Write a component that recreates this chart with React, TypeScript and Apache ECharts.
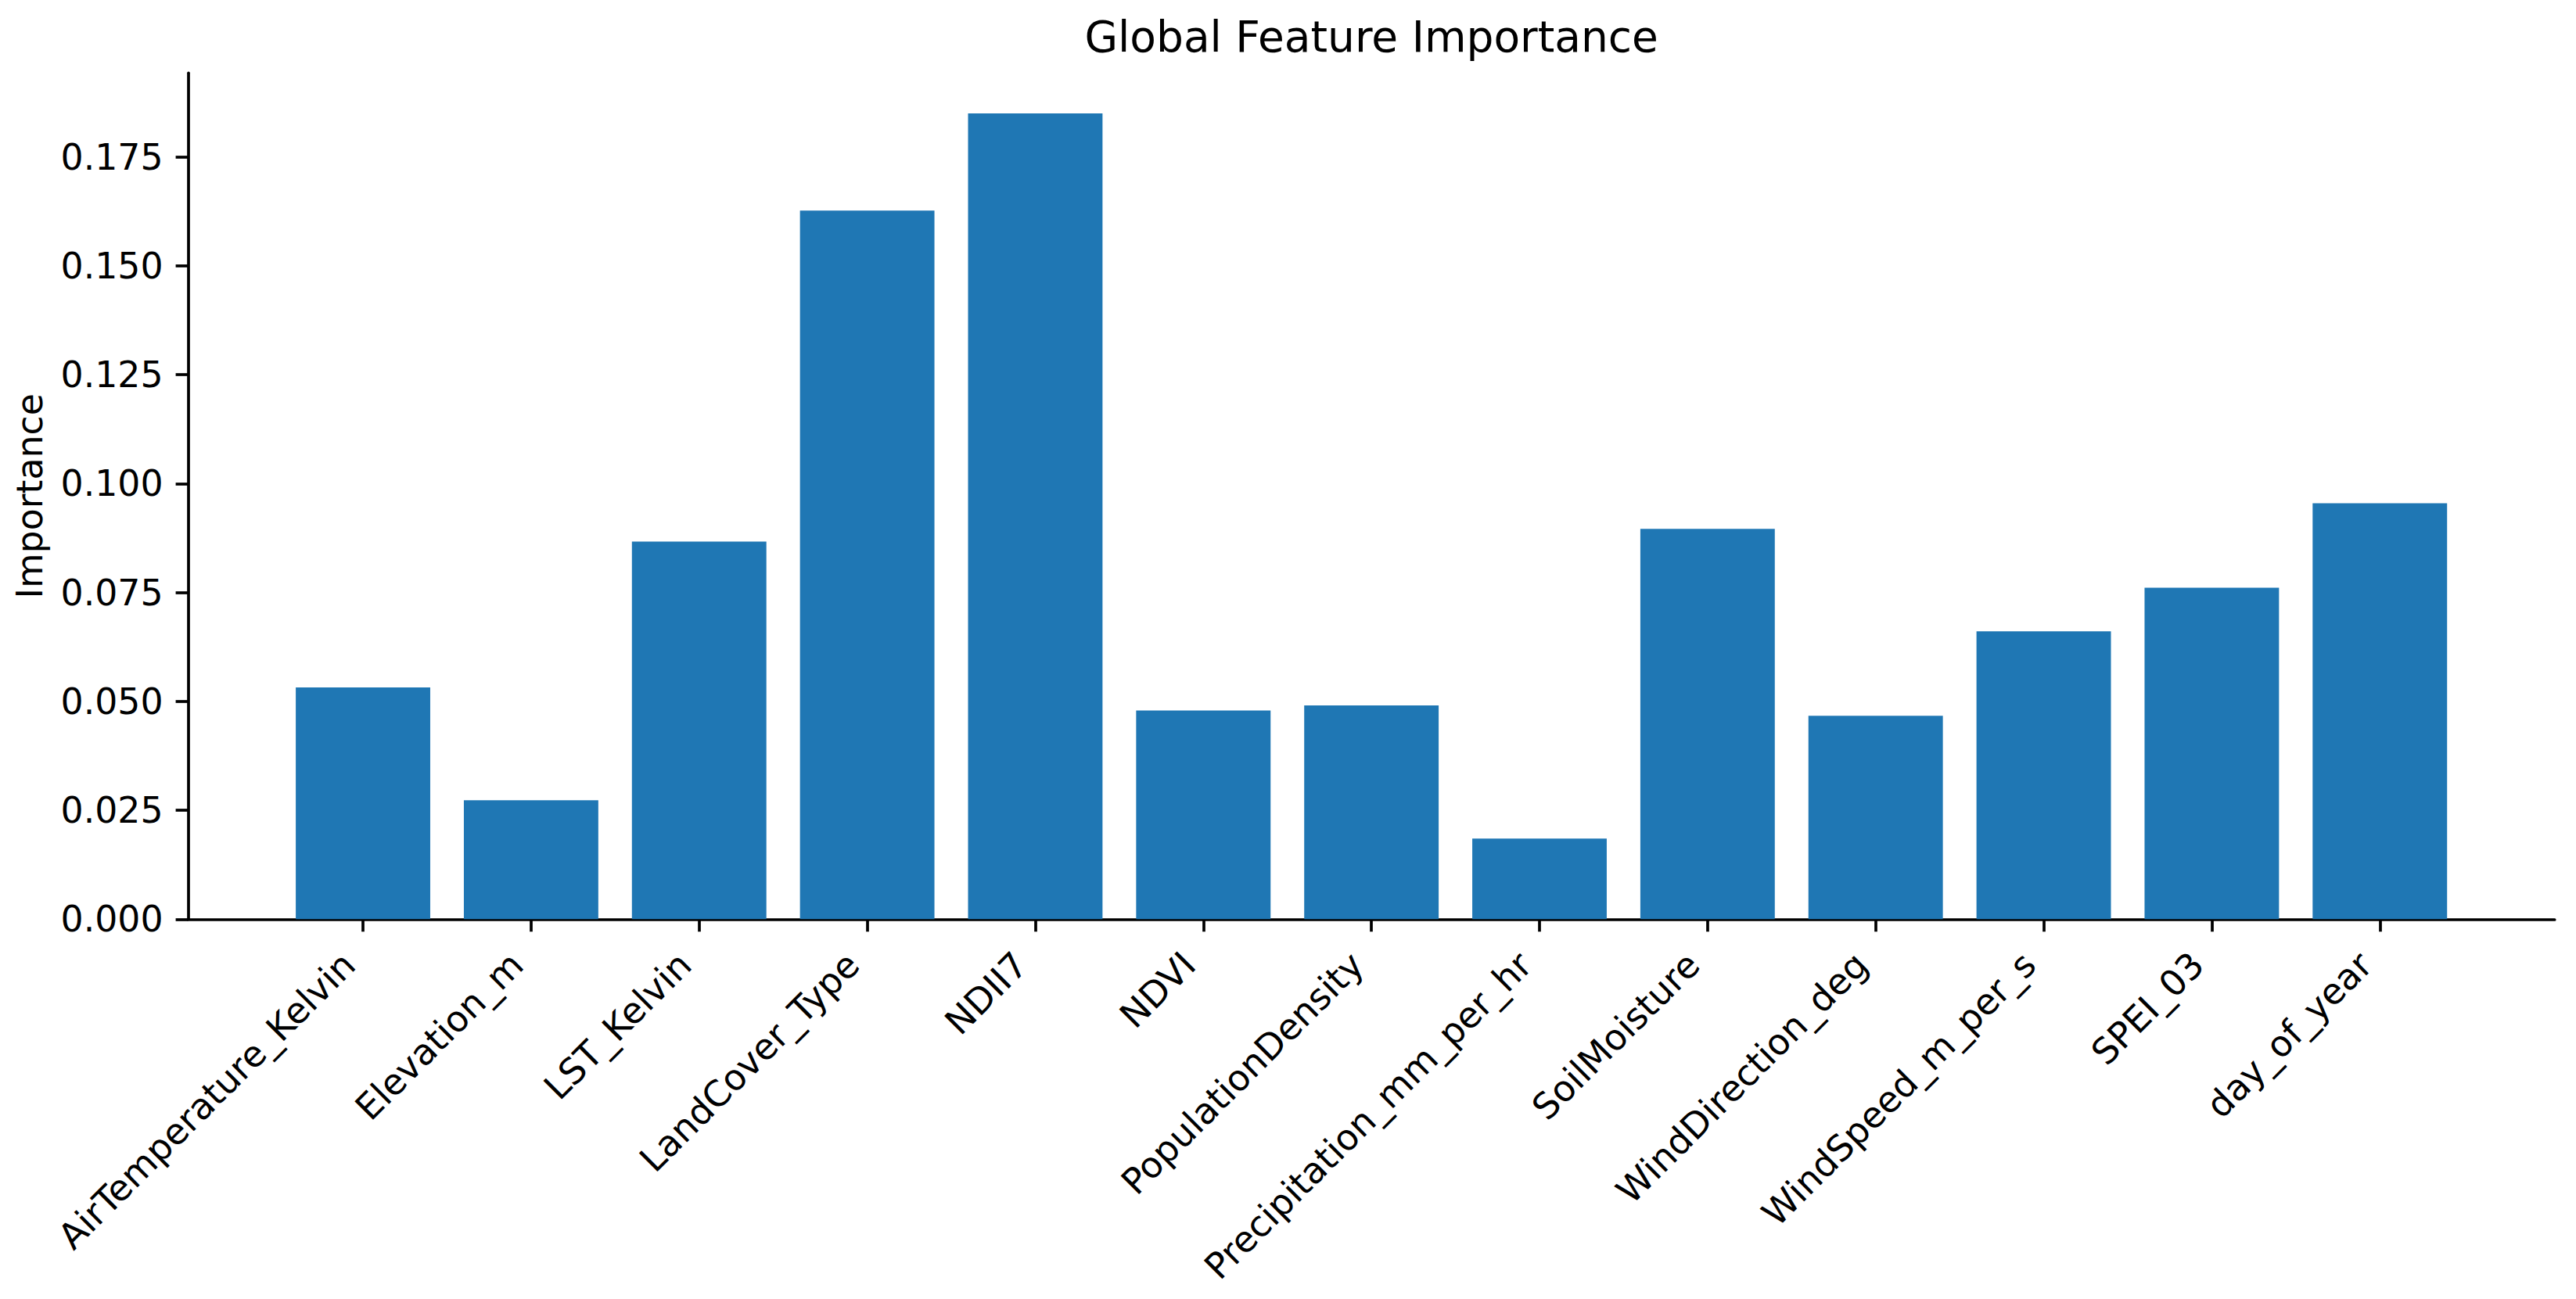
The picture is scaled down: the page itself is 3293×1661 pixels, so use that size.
import React, { useEffect, useRef } from "react";
import * as echarts from "echarts";

const features = [
  "AirTemperature_Kelvin",
  "Elevation_m",
  "LST_Kelvin",
  "LandCover_Type",
  "NDII7",
  "NDVI",
  "PopulationDensity",
  "Precipitation_mm_per_hr",
  "SoilMoisture",
  "WindDirection_deg",
  "WindSpeed_m_per_s",
  "SPEI_03",
  "day_of_year",
];
const importance = [
  0.0532, 0.0273, 0.0867, 0.1627, 0.185, 0.0479, 0.0491, 0.0185, 0.0896,
  0.0467, 0.0661, 0.0761, 0.0955,
];
const yTicks = [0, 0.025, 0.05, 0.075, 0.1, 0.125, 0.15, 0.175];
const yMin = 0;
const yMax = 0.1943;
const xMin = -1.04;
const xMax = 13.04;
const titleText = "Global Feature Importance";
const yLabelText = "Importance";

const W = 3293;
const H = 1661;
const FONT = "DejaVu Sans";
const FS = 45.8;
const TITLE_FS = 55;

export default function App() {
  const ref = useRef<HTMLDivElement>(null);
  useEffect(() => {
    if (!ref.current) return;
    const chart = echarts.init(ref.current, undefined, { renderer: "svg" });
    const gLeft = 240.6;
    const gRight = 3265.7;
    const gTop = 93.3;
    const gBottom = 1175.3;
    const gridW = gRight - gLeft;
    const barW = (gridW / (xMax - xMin)) * 0.8;
    const idx = features.map((_, i) => i);
    const lineW = 3.7;
    const tickLen = 16;
    chart.setOption({
      animation: false,
      backgroundColor: "#ffffff",
      textStyle: { fontFamily: FONT },
      grid: {
        left: gLeft,
        top: gTop,
        right: W - gRight,
        bottom: H - gBottom,
        containLabel: false,
      },
      xAxis: {
        type: "value",
        min: xMin,
        max: xMax,
        splitLine: { show: false },
        axisLine: {
          show: true,
          onZero: false,
          lineStyle: { color: "#000", width: lineW },
        },
        axisTick: {
          show: true,
          inside: false,
          length: tickLen,
          lineStyle: { color: "#000", width: lineW },
          customValues: idx,
        },
        axisLabel: {
          show: true,
          customValues: idx,
          rotate: 45,
          margin: 32,
          padding: [0, 26, 0, 0],
          color: "#000",
          fontSize: FS,
          fontFamily: FONT,
          formatter: (v: number) => features[Math.round(v)] ?? "",
        },
      },
      yAxis: {
        type: "value",
        min: yMin,
        max: yMax,
        splitLine: { show: false },
        axisLine: {
          show: true,
          onZero: false,
          lineStyle: { color: "#000", width: lineW },
        },
        axisTick: {
          show: true,
          inside: false,
          length: tickLen,
          lineStyle: { color: "#000", width: lineW },
          customValues: yTicks,
        },
        axisLabel: {
          show: true,
          customValues: yTicks,
          margin: 32,
          color: "#000",
          fontSize: FS,
          fontFamily: FONT,
          formatter: (v: number) => v.toFixed(3),
        },
      },
      series: [
        {
          type: "bar",
          barWidth: barW,
          itemStyle: { color: "#1f77b4" },
          data: features.map((_, i) => [i, importance[i]]),
        },
      ],
      graphic: [
        {
          type: "text",
          x: (gLeft + gRight) / 2,
          y: 47,
          style: {
            text: titleText,
            fontSize: TITLE_FS,
            fontFamily: FONT,
            fill: "#000",
            align: "center",
            verticalAlign: "middle",
          },
        },
        {
          type: "text",
          x: 38,
          y: (gTop + gBottom) / 2,
          rotation: Math.PI / 2,
          style: {
            text: yLabelText,
            fontSize: FS,
            fontFamily: FONT,
            fill: "#000",
            align: "center",
            verticalAlign: "middle",
          },
        },
      ],
    });
    return () => chart.dispose();
  }, []);
  return (
    <div
      ref={ref}
      style={{
        position: "fixed",
        left: 0,
        top: 0,
        width: W,
        height: H,
        background: "#fff",
      }}
    />
  );
}
